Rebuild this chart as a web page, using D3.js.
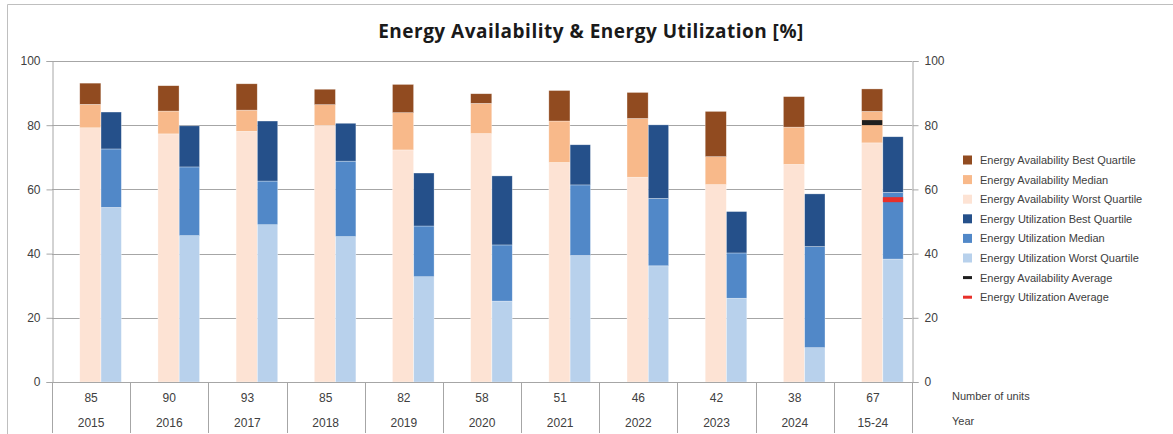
<!DOCTYPE html>
<html>
<head>
<meta charset="utf-8">
<script src="https://cdn.jsdelivr.net/npm/d3@7/dist/d3.min.js"></script>
<style>
  body { margin: 0; background: #fff; }
  svg { display: block; font-family: "Liberation Sans", Arial, sans-serif; }
</style>
</head>
<body>
<div id="chart"></div>
<script>
// categories and table rows
const years = ['2015', '2016', '2017', '2018', '2019', '2020', '2021', '2022', '2023', '2024', '15-24'];
const units = [85, 90, 93, 85, 82, 58, 51, 46, 42, 38, 67];

// stacked levels (top of each segment, in %)
const availWorst  = [79.2, 77.3, 78.1, 79.9, 72.3, 77.4, 68.4, 63.8, 61.5, 67.8, 74.5];
const availMedian = [86.5, 84.4, 84.7, 86.4, 83.9, 86.8, 81.3, 82.1, 70.2, 79.4, 84.3];
const availBest   = [93.1, 92.3, 92.9, 91.2, 92.7, 89.8, 90.8, 90.2, 84.3, 88.9, 91.3];
const utilWorst   = [54.4, 45.6, 49.0, 45.3, 32.8, 25.2, 39.4, 36.2, 26.1, 10.7, 38.3];
const utilMedian  = [72.6, 67.0, 62.6, 68.8, 48.6, 42.7, 61.4, 57.2, 40.2, 42.2, 59.1];
const utilBest    = [84.1, 79.8, 81.3, 80.6, 65.1, 64.2, 73.9, 80.1, 53.1, 58.6, 76.4];

// averages only exist for the overall column
const availAverage = [{ cat: '15-24', value: 80.8 }];
const utilAverage  = [{ cat: '15-24', value: 56.8 }];

const yTicks = [0, 20, 40, 60, 80, 100];

const colors = {
    availBest: '#914b20',
    availMedian: '#f8b98a',
    availWorst: '#fde3d4',
    utilBest: '#25508a',
    utilMedian: '#5188c8',
    utilWorst: '#b8d1ec',
    availAvg: '#1e1e1e',
    utilAvg: '#e8302a'
};

const width = 1173;
const height = 434;
const plot = { left: 52, right: 912, top: 61, bottom: 382 };

const svg = d3.select('#chart')
    .append('svg')
    .attr('width', width)
    .attr('height', height);

// outer chart border (top + left visible)
svg.append('path')
    .attr('d', `M7.5,${height} L7.5,4.5 L${width},4.5`)
    .attr('fill', 'none')
    .attr('stroke', '#bfbfbf');

svg.append('text')
    .attr('x', 591)
    .attr('y', 38)
    .attr('text-anchor', 'middle')
    .attr('font-family', '"Open Sans", "Liberation Sans", sans-serif')
    .attr('font-weight', 'bold')
    .attr('font-size', 19)
    .attr('letter-spacing', 0.5)
    .attr('fill', '#1a1a1a')
    .text('Energy Availability & Energy Utilization [%]');

const xScale = d3.scaleBand()
    .domain(years)
    .range([plot.left, plot.right])
    .padding(0);

const yScale = d3.scaleLinear()
    .domain([0, 100])
    .range([plot.bottom, plot.top]);

const bw = xScale.bandwidth();

// gridlines
svg.append('g')
    .selectAll('line')
    .data(yTicks.filter(d => d > 0))
    .join('line')
    .attr('x1', plot.left)
    .attr('x2', plot.right)
    .attr('y1', d => Math.round(yScale(d)) + 0.5)
    .attr('y2', d => Math.round(yScale(d)) + 0.5)
    .attr('stroke', '#a6a6a6')
    .attr('stroke-width', 1);

// build segments
function segments(levels, keys, offset, w) {
    const out = [];
    years.forEach((cat, i) => {
        let prev = 0;
        levels.forEach((arr, k) => {
            out.push({ cat, y0: prev, y1: arr[i], key: keys[k], offset, w });
            prev = arr[i];
        });
    });
    return out;
}

const availSegs = segments([availWorst, availMedian, availBest],
    ['availWorst', 'availMedian', 'availBest'], 0.355, 0.27);
const utilSegs = segments([utilWorst, utilMedian, utilBest],
    ['utilWorst', 'utilMedian', 'utilBest'], 0.627, 0.26);

svg.append('g')
    .selectAll('rect')
    .data(availSegs.concat(utilSegs))
    .join('rect')
    .attr('x', d => xScale(d.cat) + bw * d.offset)
    .attr('width', d => bw * d.w)
    .attr('y', d => yScale(d.y1))
    .attr('height', d => yScale(d.y0) - yScale(d.y1))
    .attr('fill', d => colors[d.key])
    .attr('stroke', '#ffffff')
    .attr('stroke-opacity', 0.5)
    .attr('stroke-width', 0.6);

// average markers
const markers = svg.append('g');
markers.selectAll('.avail-avg')
    .data(availAverage)
    .join('rect')
    .attr('class', 'avail-avg')
    .attr('x', d => xScale(d.cat) + bw * 0.36)
    .attr('width', bw * 0.26)
    .attr('y', d => yScale(d.value) - 2.5)
    .attr('height', 5)
    .attr('fill', colors.availAvg);
markers.selectAll('.util-avg')
    .data(utilAverage)
    .join('rect')
    .attr('class', 'util-avg')
    .attr('x', d => xScale(d.cat) + bw * 0.627)
    .attr('width', bw * 0.26)
    .attr('y', d => yScale(d.value) - 2.5)
    .attr('height', 5)
    .attr('fill', colors.utilAvg);

// left axis
const yAxisLeft = d3.axisLeft(yScale).tickValues(yTicks).tickSize(6).tickPadding(6);
const gl = svg.append('g')
    .attr('transform', `translate(${plot.left + 0.5},0)`)
    .call(yAxisLeft);

// right axis
const yAxisRight = d3.axisRight(yScale).tickValues(yTicks).tickSize(6).tickPadding(6);
const gr = svg.append('g')
    .attr('transform', `translate(${plot.right + 0.5},0)`)
    .call(yAxisRight);

[gl, gr].forEach(g => {
    g.select('.domain').attr('stroke', '#a6a6a6');
    g.selectAll('.tick line').attr('stroke', '#a6a6a6');
    g.selectAll('.tick text')
        .attr('font-size', 12)
        .attr('fill', '#404040')
        .attr('font-family', '"Liberation Sans", Arial, sans-serif');
});

// bottom axis line and table
svg.append('line')
    .attr('x1', plot.left)
    .attr('x2', plot.right)
    .attr('y1', plot.bottom + 0.5)
    .attr('y2', plot.bottom + 0.5)
    .attr('stroke', '#a6a6a6');

const table = svg.append('g');
table.selectAll('line')
    .data(years.map(d => xScale(d)).concat([plot.right]))
    .join('line')
    .attr('x1', d => Math.round(d) + 0.5)
    .attr('x2', d => Math.round(d) + 0.5)
    .attr('y1', plot.bottom)
    .attr('y2', 433)
    .attr('stroke', '#a6a6a6');

table.selectAll('.units')
    .data(years)
    .join('text')
    .attr('class', 'units')
    .attr('x', d => xScale(d) + bw / 2)
    .attr('y', 402)
    .attr('text-anchor', 'middle')
    .attr('font-size', 12)
    .attr('fill', '#404040')
    .text((d, i) => units[i]);

table.selectAll('.years')
    .data(years)
    .join('text')
    .attr('class', 'years')
    .attr('x', d => xScale(d) + bw / 2)
    .attr('y', 427)
    .attr('text-anchor', 'middle')
    .attr('font-size', 12)
    .attr('fill', '#404040')
    .text(d => d);

table.append('text')
    .attr('x', 952).attr('y', 400)
    .attr('font-size', 11).attr('fill', '#404040')
    .text('Number of units');
table.append('text')
    .attr('x', 952).attr('y', 425)
    .attr('font-size', 11).attr('fill', '#404040')
    .text('Year');

// legend
const legendItems = [
    { label: 'Energy Availability Best Quartile', key: 'availBest', type: 'box' },
    { label: 'Energy Availability Median', key: 'availMedian', type: 'box' },
    { label: 'Energy Availability Worst Quartile', key: 'availWorst', type: 'box' },
    { label: 'Energy Utilization Best Quartile', key: 'utilBest', type: 'box' },
    { label: 'Energy Utilization Median', key: 'utilMedian', type: 'box' },
    { label: 'Energy Utilization Worst Quartile', key: 'utilWorst', type: 'box' },
    { label: 'Energy Availability Average', key: 'availAvg', type: 'line' },
    { label: 'Energy Utilization Average', key: 'utilAvg', type: 'line' }
];

const legend = svg.append('g').attr('transform', 'translate(963,160)');
const li = legend.selectAll('g')
    .data(legendItems)
    .join('g')
    .attr('transform', (d, i) => `translate(0,${i * 19.6})`);

li.append('rect')
    .attr('x', 0)
    .attr('y', d => d.type === 'box' ? -4.5 : -1.5)
    .attr('width', 9)
    .attr('height', d => d.type === 'box' ? 9 : 3)
    .attr('fill', d => colors[d.key]);

li.append('text')
    .attr('x', 17)
    .attr('y', 4)
    .attr('font-size', 11)
    .attr('fill', '#404040')
    .text(d => d.label);
</script>
</body>
</html>
